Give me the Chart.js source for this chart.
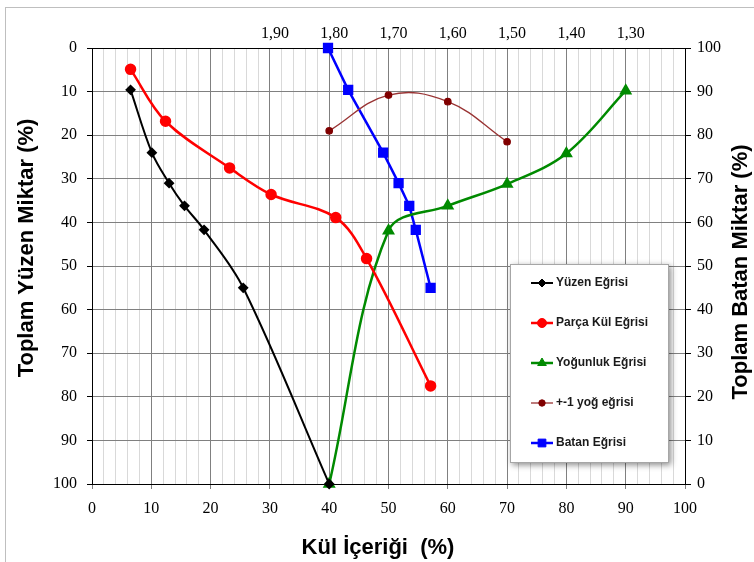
<!DOCTYPE html>
<html>
<head>
<meta charset="utf-8">
<script src="https://cdn.jsdelivr.net/npm/chart.js@4/dist/chart.umd.min.js"></script>
<style>
  html, body { margin: 0; padding: 0; background: #fff; }
  canvas { display: block; }
</style>
</head>
<body>
<canvas id="chart" width="754" height="562"></canvas>
<script>
// Yüzen-batan analizi grafiği

// Yüzen Eğrisi (sol eksen)
const floatAsh = [6.5, 10.1, 13.0, 15.6, 18.9, 25.5, 40.0];
const floatCum = [9.6, 24.0, 31.0, 36.2, 41.7, 55.0, 100];

// Parça Kül Eğrisi (sol eksen)
const partAsh = [6.5, 12.4, 23.2, 30.2, 41.1, 46.3, 57.1];
const partCum = [4.9, 16.8, 27.5, 33.6, 38.9, 48.3, 77.5];

// Yoğunluk Eğrisi (sol eksen, x konumu yoğunluk ölçeğine göre)
const densPos = [40, 50, 60, 70, 80, 90];
const densCum = [100, 41.9, 36.2, 31.2, 24.2, 9.8];

// +-1 yoğ eğrisi (sol eksen)
const nearPos = [40, 50, 60, 70];
const nearVal = [19.0, 10.8, 12.3, 21.5];

// Batan Eğrisi (sağ eksen)
const sinkAsh = [39.8, 43.2, 49.1, 51.7, 53.5, 54.6, 57.1];
const sinkCum = [100, 90.4, 76.0, 69.0, 63.8, 58.3, 45.0];

// üst eksen (yoğunluk) etiketleri
const topTickPos = [30, 40, 50, 60, 70, 80, 90];
const topTickLabels = ['1,90', '1,80', '1,70', '1,60', '1,50', '1,40', '1,30'];

const seriesNames = ['Yüzen Eğrisi', 'Parça Kül Eğrisi', 'Yoğunluk Eğrisi', '+-1 yoğ eğrisi', 'Batan Eğrisi'];

const xTitle = 'Kül İçeriği  (%)';
const leftTitle = 'Toplam Yüzen Miktar (%)';
const rightTitle = 'Toplam Batan Miktar (%)';

const toPoints = (xs, ys) => xs.map((x, i) => ({ x: x, y: ys[i] }));

const MAJOR = '#808080';
const MINOR = '#d9d9d9';
const serif = 'Liberation Serif';
const sans = 'Liberation Sans';

// white page + thin outer frame
const framePlugin = {
  id: 'frame',
  beforeDraw(chart) {
    const ctx = chart.ctx;
    ctx.save();
    ctx.fillStyle = '#fff';
    ctx.fillRect(0, 0, chart.width, chart.height);
    ctx.strokeStyle = '#bfbfbf';
    ctx.lineWidth = 1;
    ctx.strokeRect(5.5, 7.5, 800, 600);
    ctx.restore();
  }
};

// axis titles: both vertical ones read bottom-to-top, as in Excel
const titlesPlugin = {
  id: 'titles',
  afterDraw(chart) {
    const ctx = chart.ctx;
    ctx.save();
    ctx.fillStyle = '#000';
    ctx.font = 'bold 22px ' + sans;
    ctx.textAlign = 'center';
    ctx.textBaseline = 'middle';
    ctx.fillText(xTitle, 378, 548);

    ctx.translate(27, 248);
    ctx.rotate(-Math.PI / 2);
    ctx.fillText(leftTitle, 0, 0);
    ctx.setTransform(1, 0, 0, 1, 0, 0);

    ctx.translate(741, 272);
    ctx.rotate(-Math.PI / 2);
    ctx.fillText(rightTitle, 0, 0);
    ctx.restore();
  }
};

function drawMarker(ctx, ds, x, y) {
  const opts = {
    pointStyle: ds.pointStyle,
    radius: ds.pointRadius,
    rotation: 0,
    borderWidth: 1
  };
  ctx.fillStyle = ds.pointBackgroundColor;
  ctx.strokeStyle = ds.pointBorderColor;
  ctx.lineWidth = 1;
  if (Chart.helpers && Chart.helpers.drawPoint) {
    Chart.helpers.drawPoint(ctx, opts, x, y);
  } else {
    ctx.beginPath();
    ctx.arc(x, y, ds.pointRadius, 0, Math.PI * 2);
    ctx.fill();
  }
}

// legend box inside the plot, like the original
const boxLegend = {
  id: 'boxLegend',
  afterDraw(chart) {
    const ctx = chart.ctx;
    const bx = 510, by = 264, bw = 159, bh = 199;
    ctx.save();
    ctx.shadowColor = 'rgba(0,0,0,0.45)';
    ctx.shadowBlur = 6;
    ctx.shadowOffsetX = 2;
    ctx.shadowOffsetY = 2;
    ctx.fillStyle = '#fff';
    ctx.fillRect(bx, by, bw, bh);
    ctx.restore();

    ctx.save();
    ctx.strokeStyle = '#a6a6a6';
    ctx.lineWidth = 1;
    ctx.strokeRect(bx + 0.5, by + 0.5, bw - 1, bh - 1);

    chart.data.datasets.forEach((ds, i) => {
      const y = 283 + i * 40;
      ctx.strokeStyle = ds.borderColor;
      ctx.lineWidth = ds.borderWidth;
      ctx.beginPath();
      ctx.moveTo(531, y);
      ctx.lineTo(553, y);
      ctx.stroke();
      drawMarker(ctx, ds, 542, y);
      ctx.fillStyle = '#1a1a1a';
      ctx.font = 'bold 12px ' + sans;
      ctx.textAlign = 'left';
      ctx.textBaseline = 'middle';
      ctx.fillText(ds.label, 556, y);
    });
    ctx.restore();
  }
};

new Chart(document.getElementById('chart'), {
  type: 'line',
  data: {
    datasets: [
      {
        label: seriesNames[0],
        data: toPoints(floatAsh, floatCum),
        yAxisID: 'yL',
        borderColor: '#000000',
        borderWidth: 2,
        pointStyle: 'rectRot',
        pointRadius: 4,
        pointBackgroundColor: '#000000',
        pointBorderColor: '#000000',
        tension: 0.35
      },
      {
        label: seriesNames[1],
        data: toPoints(partAsh, partCum),
        yAxisID: 'yL',
        borderColor: '#ff0000',
        borderWidth: 2.5,
        pointStyle: 'circle',
        pointRadius: 4.5,
        pointBackgroundColor: '#ff0000',
        pointBorderColor: '#ff0000',
        tension: 0.35
      },
      {
        label: seriesNames[2],
        data: toPoints(densPos, densCum),
        yAxisID: 'yL',
        borderColor: '#008a00',
        borderWidth: 2.5,
        pointStyle: 'triangle',
        pointRadius: 5,
        pointBackgroundColor: '#008a00',
        pointBorderColor: '#008a00',
        tension: 0.35
      },
      {
        label: seriesNames[3],
        data: toPoints(nearPos, nearVal),
        yAxisID: 'yL',
        borderColor: '#993333',
        borderWidth: 1.3,
        pointStyle: 'circle',
        pointRadius: 3.2,
        pointBackgroundColor: '#800000',
        pointBorderColor: '#800000',
        tension: 0.4
      },
      {
        label: seriesNames[4],
        data: toPoints(sinkAsh, sinkCum),
        yAxisID: 'yR',
        borderColor: '#0000ff',
        borderWidth: 2.5,
        pointStyle: 'rect',
        pointRadius: 5.5,
        pointBackgroundColor: '#0000ff',
        pointBorderColor: '#0000ff',
        tension: 0
      }
    ]
  },
  options: {
    responsive: false,
    animation: false,
    events: [],
    layout: { padding: 0 },
    datasets: { line: { clip: false } },
    plugins: {
      legend: { display: false },
      tooltip: { enabled: false }
    },
    scales: {
      x: {
        type: 'linear',
        position: 'bottom',
        min: 0,
        max: 100,
        afterFit: (s) => { s.height = 78; },
        ticks: {
          stepSize: 2,
          autoSkip: false,
          maxRotation: 0,
          padding: 10,
          color: '#000',
          font: { family: serif, size: 16 },
          callback: (v) => (v % 10 === 0 ? String(v) : '')
        },
        grid: {
          color: (c) => (c.tick && c.tick.value % 10 === 0 ? MAJOR : MINOR),
          tickColor: (c) => (c.tick && c.tick.value % 10 === 0 ? MAJOR : 'rgba(0,0,0,0)'),
          tickLength: 5,
          lineWidth: 1
        },
        border: { color: '#000', width: 1 }
      },
      xTop: {
        type: 'linear',
        position: 'top',
        min: 0,
        max: 100,
        afterFit: (s) => { s.height = 48; },
        afterBuildTicks: (s) => { s.ticks = topTickPos.map((v) => ({ value: v })); },
        ticks: {
          autoSkip: false,
          maxRotation: 0,
          padding: 5,
          labelOffset: 5,
          color: '#000',
          font: { family: serif, size: 16 },
          callback: (v) => {
            const i = topTickPos.indexOf(v);
            return i >= 0 ? topTickLabels[i] : '';
          }
        },
        grid: { display: false, drawTicks: false },
        border: { display: true, color: '#000', width: 1 }
      },
      yL: {
        type: 'linear',
        position: 'left',
        reverse: true,
        min: 0,
        max: 100,
        afterFit: (s) => { s.width = 92; },
        ticks: {
          stepSize: 10,
          padding: 10,
          color: '#000',
          font: { family: serif, size: 16 }
        },
        grid: {
          color: MAJOR,
          tickColor: '#000',
          tickLength: 5,
          lineWidth: 1
        },
        border: { color: '#000', width: 1 }
      },
      yR: {
        type: 'linear',
        position: 'right',
        min: 0,
        max: 100,
        afterFit: (s) => { s.width = 69; },
        ticks: {
          stepSize: 10,
          padding: 6,
          color: '#000',
          font: { family: serif, size: 16 }
        },
        grid: {
          drawOnChartArea: false,
          tickColor: '#000',
          tickLength: 6
        },
        border: { color: '#000', width: 1 }
      }
    }
  },
  plugins: [framePlugin, boxLegend, titlesPlugin]
});
</script>
</body>
</html>
